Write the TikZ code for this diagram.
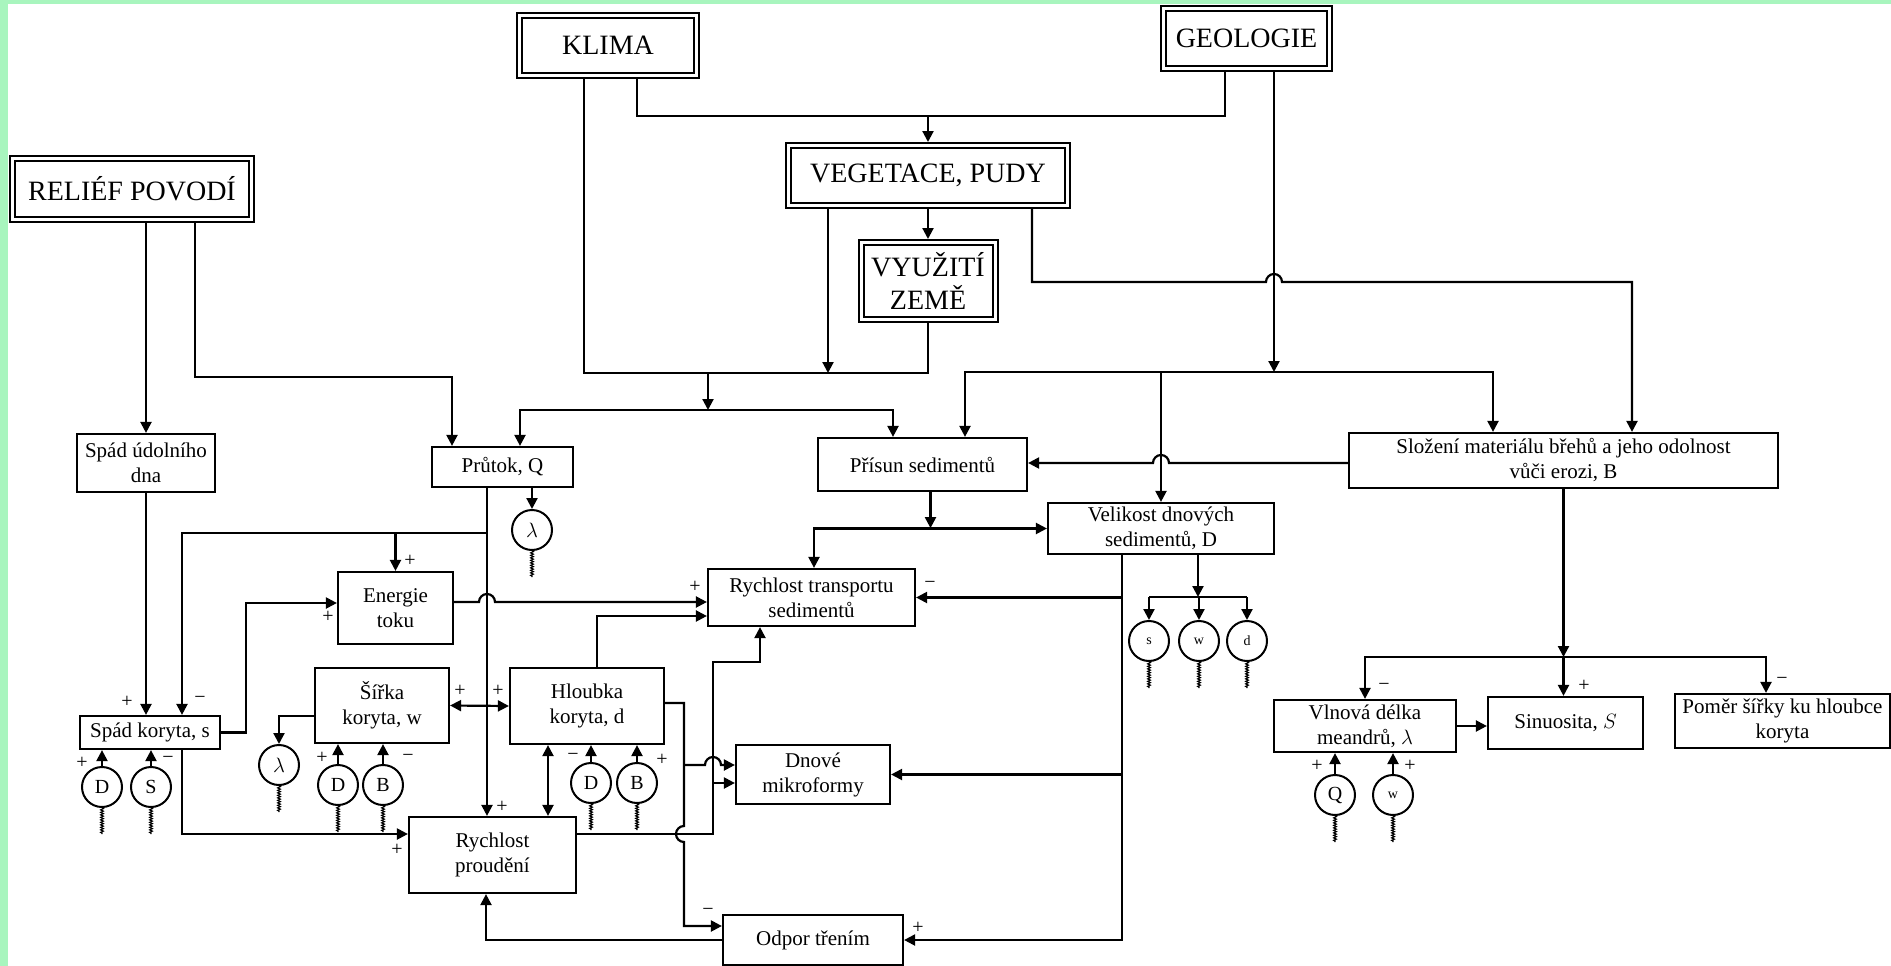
\documentclass[tikz,border=0pt]{standalone}
\usepackage{fontspec}
\setmainfont{Liberation Serif}
\usetikzlibrary{arrows.meta,decorations.pathmorphing}
\definecolor{bggreen}{RGB}{168,245,190}

\begin{document}
\begin{tikzpicture}[x=1pt,y=-1pt,
  every node/.style={inner sep=0pt, align=center},
  box/.style={draw, line width=2.2pt, fill=white, font=\fontsize{21}{25}\selectfont},
  bigbox/.style={draw, line width=2pt, double, double distance=3pt, outer sep=3.5pt, font=\fontsize{28}{33}\selectfont},
  sens/.style={circle, draw, line width=2pt, minimum size=40pt, font=\fontsize{20}{20}\selectfont},
  ln/.style={line width=2.2pt},
  arr/.style={line width=2.2pt, -{Triangle[length=11pt,width=11pt]}},
  darr/.style={line width=2.2pt, {Triangle[length=11pt,width=11pt]}-{Triangle[length=11pt,width=11pt]}},
  tail/.style={line width=1.1pt, decorate, decoration={zigzag, segment length=2.5pt, amplitude=1.4pt}},
  sgn/.style={font=\fontsize{20}{20}\selectfont}]
  \fill[bggreen] (0,0) rectangle (1891,966);
  \fill[white] (8,4) rectangle (1891,966);
  \useasboundingbox (0,0) rectangle (1891,966);

  \node[bigbox, minimum width=177pt, minimum height=60pt] (klima) at (608,45.5) {KLIMA};
  \node[bigbox, minimum width=166pt, minimum height=60pt] (geol) at (1246.5,38.5) {GEOLOGIE};
  \node[bigbox, minimum width=239pt, minimum height=61pt] (relief) at (132,189) {RELIÉF POVODÍ};
  \node[bigbox, minimum width=279pt, minimum height=60pt] (veget) at (928,175.5) {VEGETACE, PUDY};
  \node[bigbox, minimum width=134pt, minimum height=77pt] (vyuz) at (928,281) {VYUŽITÍ\\ZEMĚ};

  \node[box, minimum width=138pt, minimum height=58pt] (spadud) at (146,463) {Spád údolního\\dna};
  \node[box, minimum width=141pt, minimum height=40pt] (prutok) at (502.5,467) {Průtok, Q};
  \node[box, minimum width=209pt, minimum height=53pt] (prisun) at (922.5,464.5) {Přísun sedimentů};
  \node[box, minimum width=429pt, minimum height=55pt] (slozeni) at (1563.5,460.5) {Složení materiálu břehů a jeho odolnost\\vůči erozi, B};
  \node[box, minimum width=226pt, minimum height=51pt] (velikost) at (1161,528.5) {Velikost dnových\\sedimentů, D};
  \node[box, minimum width=115pt, minimum height=72pt] (energie) at (395.5,608) {Energie\\toku};
  \node[box, minimum width=207pt, minimum height=57pt] (rts) at (811.5,597.5) {Rychlost transportu\\sedimentů};
  \node[box, minimum width=134pt, minimum height=75pt] (sirka) at (382,705.5) {Šířka\\koryta, w};
  \node[box, minimum width=154pt, minimum height=76pt] (hloubka) at (587,706) {Hloubka\\koryta, d};
  \node[box, minimum width=140pt, minimum height=33pt] (spadkor) at (150,732.5) {Spád koryta, s};
  \node[box, minimum width=154pt, minimum height=59pt] (dnove) at (813,774.5) {Dnové\\mikroformy};
  \node[box, minimum width=167pt, minimum height=76pt] (rychprou) at (492.5,855) {Rychlost\\proudění};
  \node[box, minimum width=180pt, minimum height=50pt] (odpor) at (813,940) {Odpor třením};
  \node[box, minimum width=182pt, minimum height=52pt] (vlnova) at (1365,726) {Vlnová délka\\meandrů, $\lambda$};
  \node[box, minimum width=155pt, minimum height=52pt] (sinus) at (1565.5,723) {Sinuosita, $S$};
  \node[box, minimum width=215pt, minimum height=54pt] (pomer) at (1782.5,721) {Poměr šířky ku hloubce\\koryta};

  \node[sens] (lq) at (532,530) {$\lambda$};
  \node[sens] (kd) at (102,787) {D};
  \node[sens] (ks) at (151,787) {S};
  \node[sens] (sl) at (279,765) {$\lambda$};
  \node[sens] (sd) at (338,785) {D};
  \node[sens] (sb) at (383,785) {B};
  \node[sens] (hd) at (591,783) {D};
  \node[sens] (hb) at (637,783) {B};
  \node[sens, font=\fontsize{14}{14}\selectfont] (vs) at (1149,641) {s};
  \node[sens, font=\fontsize{14}{14}\selectfont] (vw) at (1199,641) {w};
  \node[sens, font=\fontsize{14}{14}\selectfont] (vd) at (1247,641) {d};
  \node[sens] (mq) at (1335,795) {Q};
  \node[sens, font=\fontsize{14}{14}\selectfont] (mw) at (1393,795) {w};

  \coordinate (jk) at (928,116);
  \coordinate (jv) at (708,373);
  \coordinate (jq) at (708,410);
  \coordinate (jg) at (1274,372);
  \coordinate (jp) at (487,533);
  \coordinate (jd) at (1198,597);
  \coordinate (jb) at (1563.5,657);
  \coordinate (v) at (1122,597);

  \draw[ln] ([xshift=29pt]klima.south) |- (jk) -| ([xshift=-21.5pt]geol.south);
  \draw[arr] (jk) -- (veget.north);
  \draw[arr] (veget.south) -- (vyuz.north);
  \draw[ln] ([xshift=-24pt]klima.south) |- (jv) -| (vyuz.south);
  \draw[arr] ([xshift=-100pt]veget.south) -- ++(0,164);
  \draw[arr] (jv) -- (jq);
  \draw[arr] (jq) -| ([xshift=17.5pt]prutok.north);
  \draw[arr] (jq) -| ([xshift=-29.5pt]prisun.north);
  \draw[arr] ([xshift=63pt]relief.south) -- ++(0,154) -| ([xshift=-50.5pt]prutok.north);
  \draw[arr] (relief.south -| spadud.north) -- (spadud.north);
  \draw[arr] ([xshift=27.5pt]geol.south) -- (jg);
  \draw[arr] (jg) -| ([xshift=-70.5pt]slozeni.north);
  \draw[arr] (jg) -| ([xshift=42.5pt]prisun.north);
  \draw[arr] (jg -| velikost.north) -- (velikost.north);
  \draw[arr] ([xshift=104pt]veget.south) |- (1266,282) arc (180:360:8) -| ([xshift=68.5pt]slozeni.north);

  \draw[arr] (spadud.south) -- (spadud.south |- spadkor.north);
  \draw[arr] ([xshift=-15.5pt]prutok.south) -- ([xshift=-5.5pt]rychprou.north);
  \draw[arr] (jp) -| ([xshift=32pt]spadkor.north);
  \draw[arr] (jp -| energie.north) -- (energie.north);
  \draw[arr] ([xshift=29.5pt]prutok.south) -- (lq.north);
  \draw[arr] (spadkor.east) -- ++(25,0) |- ([yshift=5pt]energie.west);
  \draw[arr] ([yshift=6pt]energie.east) -- (479,602) arc (180:360:8) -- ([yshift=-4.5pt]rts.west);
  \draw[arr] ([xshift=10pt]hloubka.north) |- ([yshift=-18.5pt]rts.west);
  \draw[arr] ([xshift=32pt]spadkor.south) |- ([yshift=21pt]rychprou.west);
  \draw[darr] (sirka.east) -- (hloubka.west);
  \draw[arr] ([yshift=-10.5pt]sirka.west) -| (sl.north);
  \draw[darr] ([xshift=-39pt]hloubka.south) -- ([xshift=55.5pt]rychprou.north);
  \draw[arr] ([yshift=3pt]hloubka.east) -| (684,826) arc (270:90:8) |- ([yshift=14pt]odpor.west);
  \draw[arr] (684,765) -- (705,765) arc (180:360:8) -- ([yshift=9.5pt]dnove.west);
  \draw[arr] ([yshift=21pt]rychprou.east) -| (713,662) -| ([xshift=-51.5pt]rts.south);
  \draw[arr] (713,783) -- ([yshift=-8.5pt]dnove.west);
  \draw[arr] (odpor.west) -| ([xshift=-6.5pt]rychprou.south);

  \draw[arr] ([xshift=-39pt]velikost.south) |- (odpor.east);
  \draw[arr] (rts.east -| v) -- (rts.east);
  \draw[arr] (dnove.east -| v) -- (dnove.east);
  \draw[arr] ([xshift=37pt]velikost.south) -- (jd);
  \draw[ln] (vs.north |- jd) -- (vd.north |- jd);
  \foreach \c in {vs,vw,vd} \draw[arr] (\c.north |- jd) -- (\c.north);
  \draw[arr] ([xshift=8pt]prisun.south) -- ++(0,36);
  \draw[darr] ([xshift=2.5pt]rts.north) |- (velikost.west);
  \draw[arr] ([yshift=-2.5pt]slozeni.west) -- (1169,463) arc (0:-180:8) -- ([yshift=1.5pt]prisun.east);

  \draw[arr] (slozeni.south) -- (jb);
  \draw[arr] (jb) -| (vlnova.north);
  \draw[arr] (jb) -| ([xshift=-16.5pt]pomer.north);
  \draw[arr] (jb) -- (jb |- sinus.north);
  \draw[arr] (vlnova.east) -- (vlnova.east -| sinus.west);

  \foreach \c in {kd,ks} \draw[arr] (\c.north) -- (\c.north |- spadkor.south);
  \foreach \c in {sd,sb} \draw[arr] (\c.north) -- (\c.north |- sirka.south);
  \foreach \c in {hd,hb} \draw[arr] (\c.north) -- (\c.north |- hloubka.south);
  \foreach \c in {mq,mw} \draw[arr] (\c.north) -- (\c.north |- vlnova.south);
  \foreach \c in {lq,kd,ks,sl,sd,sb,hd,hb,vs,vw,vd,mq,mw} \draw[tail] (\c.south) -- ++(0,26);

  \foreach \x/\y [count=\i] in {127/702, 82/763, 410/561, 328/617, 695/587, 322/758, 460/691, 498/691,
      502/807, 397/850, 662/760, 918/928, 1317/766, 1410/766, 1584/686}
    \node[sgn] (plus\i) at (\x,\y) {+};
  \foreach \x/\y [count=\i] in {200/700, 168/760, 408/758, 573/757, 708/912, 930/585, 1384/687, 1782/681}
    \node[sgn] (minus\i) at (\x,\y) {−};
\end{tikzpicture}
\end{document}
